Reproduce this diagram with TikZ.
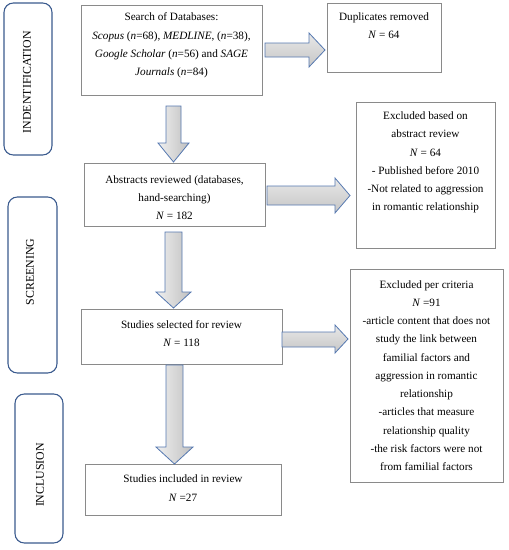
\documentclass[tikz,border=0pt]{standalone}
\usepackage{fontspec}
\setmainfont{Liberation Serif}
\usetikzlibrary{fit}
\definecolor{phaseblue}{HTML}{3A5A8E}
\definecolor{arrowblue}{HTML}{5578B0}
\definecolor{boxgray}{HTML}{8A8A8A}
\tikzset{
  phase/.style={draw=phaseblue, line width=0.8pt, rounded corners=7pt, inner sep=0pt},
  box/.style={draw=boxgray, line width=0.6pt, inner sep=0pt},
  txt/.style={align=center, inner sep=0pt, font=\fontsize{8.4}{13.7}\selectfont},
  phasetxt/.style={rotate=90, inner sep=0pt, font=\fontsize{8.9}{9}\selectfont},
  downarrow/.style={draw=arrowblue, line width=0.6pt, left color=gray!12, right color=gray!50, line join=miter},
  rightarrow/.style={draw=arrowblue, line width=0.6pt, top color=gray!18, bottom color=gray!45, line join=miter}
}
\begin{document}
\begin{tikzpicture}[x=0.75pt,y=-0.75pt]
\useasboundingbox (0,0) rectangle (508,550);
% phase boxes
\node[phase, fit={(4,3) (52,155)}] (pid) {};
\node[phase, fit={(8,197) (57,373)}] (psc) {};
\node[phase, fit={(15,394) (63,543)}] (pin) {};
\node[phasetxt] (pidt) at (27,82) {INDENTIFICATION};
\node[phasetxt] (psct) at (30,272) {SCREENING};
\node[phasetxt] (pint) at (40,475) {INCLUSION};
% boxes
\node[box, fit={(81,5) (262,95)}] (search) {};
\node[box, fit={(327,3) (441,72)}] (dup) {};
\node[box, fit={(84,163) (265,226)}] (abs) {};
\node[box, fit={(356,102) (495,248)}] (exab) {};
\node[box, fit={(81,309) (282,364)}] (sel) {};
\node[box, fit={(350,269) (503,482)}] (excr) {};
\node[box, fit={(85,464) (281,515)}] (inc) {};
% texts
\node[txt] (searcht) at (171.5,45.5) {Search of Databases:\\
\textit{Scopus} (\textit{n}=68), \textit{MEDLINE}, (\textit{n}=38),\\
\textit{Google Scholar} (\textit{n}=56) and \textit{SAGE}\\
\textit{Journals} (\textit{n}=84)};
\node[txt] (dupt) at (384,26) {Duplicates removed\\ \textit{N} = 64};
\node[txt] (abst) at (174.5,197.5) {Abstracts reviewed (databases,\\ hand-searching)\\ \textit{N} = 182};
\node[txt] (exabt) at (425.5,162.5) {Excluded based on\\ abstract review\\ \textit{N} = 64\\ - Published before 2010\\ -Not related to aggression\\ in romantic relationship};
\node[txt] (selt) at (181.5,333.5) {Studies selected for review\\ \textit{N} = 118};
\node[txt] (excrt) at (426.5,375.5) {Excluded per criteria\\ \textit{N} =91\\ -article content that does not\\ study the link between\\ familial factors and\\ aggression in romantic\\ relationship\\ -articles that measure\\ relationship quality\\ -the risk factors were not\\ from familial factors};
\node[txt] (inct) at (183,488) {Studies included in review\\ \textit{N} =27};
% block arrows
\draw[rightarrow] (265,43) -- (309,43) -- (309,33) -- (325,50) -- (309,67) -- (309,57) -- (265,57) -- cycle;
\draw[downarrow] (166,106) -- (181,106) -- (181,143) -- (189,143) -- (173.5,162) -- (158,143) -- (166,143) -- cycle;
\draw[rightarrow] (267,186) -- (335,186) -- (335,178) -- (350,195.5) -- (335,213) -- (335,205) -- (267,205) -- cycle;
\draw[downarrow] (165,232) -- (182,232) -- (182,292) -- (191,292) -- (173.5,308) -- (156,292) -- (165,292) -- cycle;
\draw[rightarrow] (282,332) -- (335,332) -- (335,325) -- (348,339) -- (335,353) -- (335,347) -- (282,347) -- cycle;
\draw[downarrow] (166,365) -- (183,365) -- (183,447) -- (193,447) -- (174.5,464) -- (156,447) -- (166,447) -- cycle;
\end{tikzpicture}
\end{document}
